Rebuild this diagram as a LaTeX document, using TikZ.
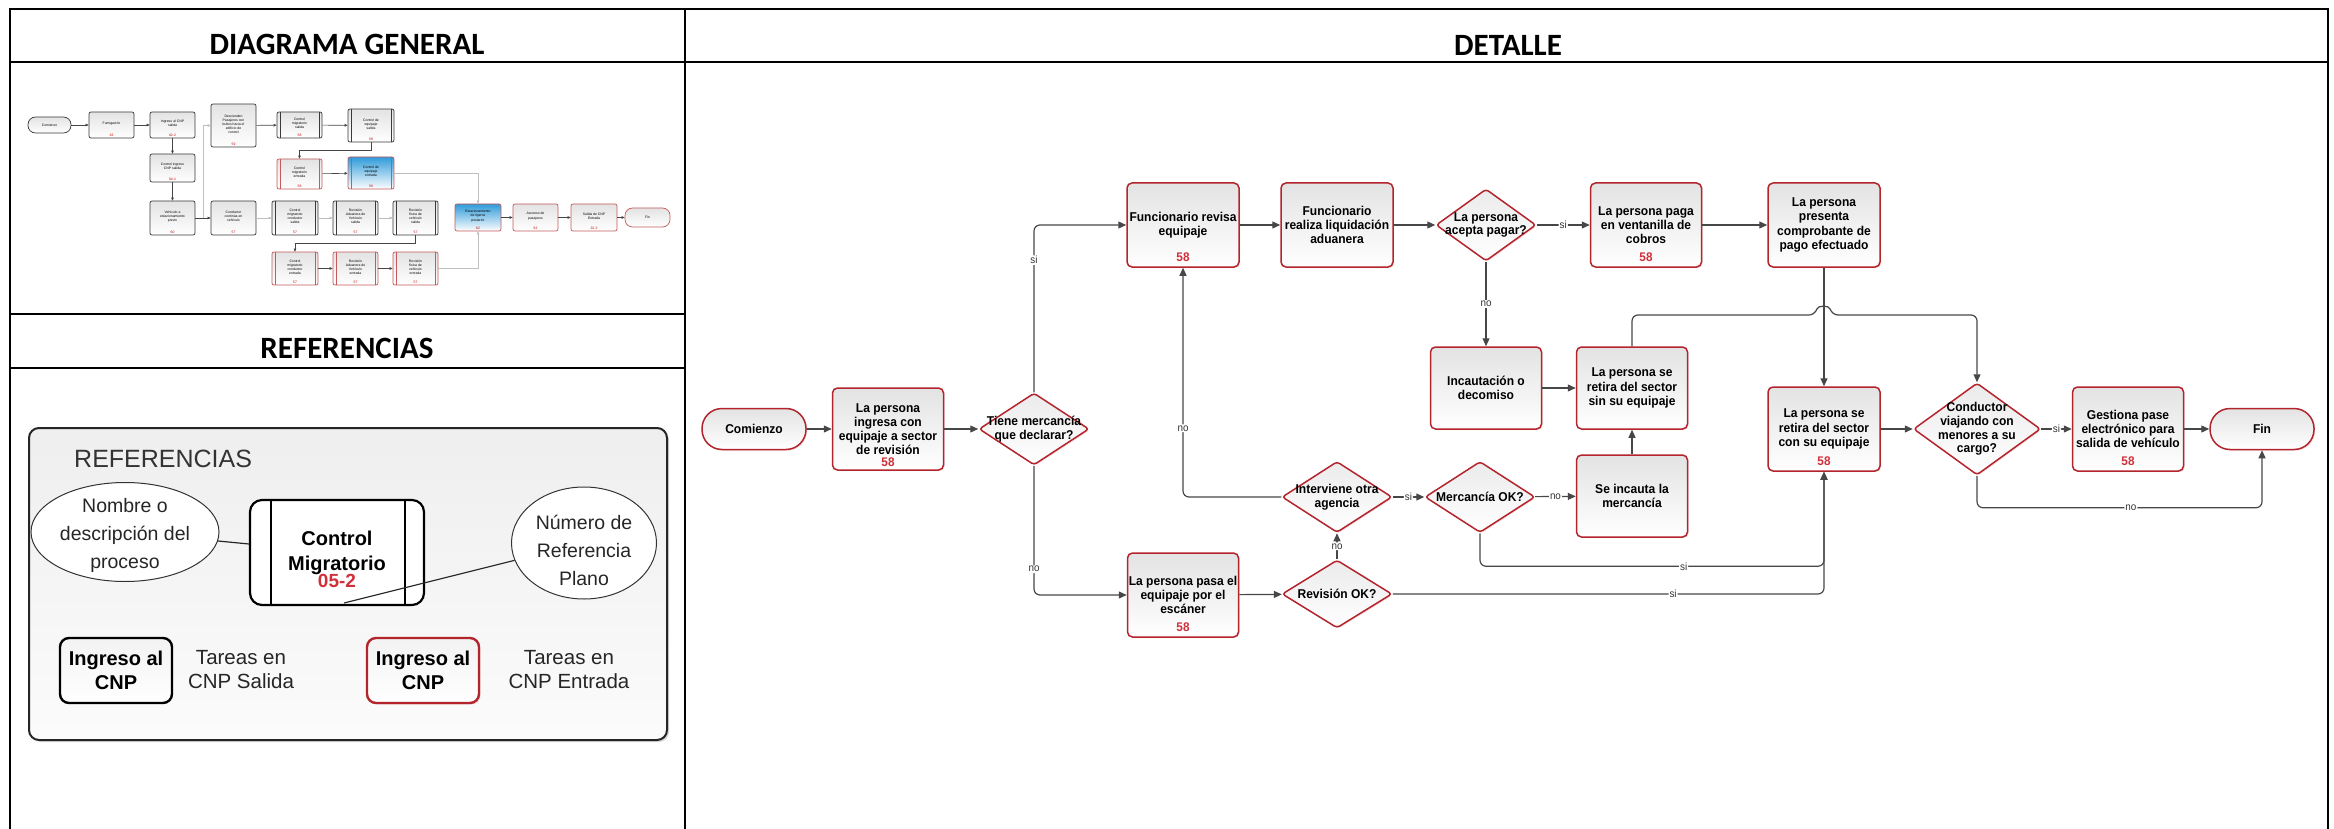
\documentclass[tikz,border=0pt]{standalone}
\usepackage{fontspec}
\setmainfont{Liberation Sans}
\newfontfamily\headfont{Carlito}
\newfontfamily\boxfont[FakeStretch=0.94]{Liberation Sans}
\usetikzlibrary{shapes.geometric,arrows.meta,shadows,calc}

\definecolor{taskred}{HTML}{B3242C}
\definecolor{numred}{HTML}{D0303A}
\definecolor{wire}{HTML}{474747}
\definecolor{minired}{HTML}{C45A5A}
\definecolor{minigray}{HTML}{3A3A3A}
\definecolor{miniblue}{HTML}{2F9BDA}

\tikzset{
  grid/.style={line width=2.6pt, draw=black},
  headtext/.style={font=\headfont\bfseries\fontsize{31}{36}\selectfont, inner sep=0pt},
  task/.style={draw=taskred, line width=1.5pt, rounded corners=5pt,
    top color=gray!22, bottom color=white, minimum width=112pt, minimum height=84pt,
    inner sep=0pt, align=center, font=\boxfont\bfseries\fontsize{12.8}{14.2}\selectfont,
    drop shadow={fill=taskred!70, opacity=0.22, shadow xshift=1.2pt, shadow yshift=-1.2pt}},
  refnum/.style={text=numred, font=\boxfont\bfseries\fontsize{12.5}{14}\selectfont, inner sep=0pt},
  term/.style={task, rounded corners=20pt, minimum width=104pt, minimum height=41pt},
  decision/.style={diamond, draw=taskred, line width=1.5pt, rounded corners=3pt,
    top color=gray!16, bottom color=white, inner sep=0pt,
    drop shadow={fill=taskred!70, opacity=0.22, shadow xshift=1.2pt, shadow yshift=-1.2pt}},
  dtext/.style={align=center, inner sep=0pt, font=\boxfont\bfseries\fontsize{12.8}{13.8}\selectfont},
  conn/.style={draw=wire, line width=1.2pt, rounded corners=6pt},
  arr/.style={conn, -{Triangle[length=8pt,width=7pt]}},
  lbl/.style={fill=white, inner sep=1pt, text=black!80, font=\boxfont\fontsize{10.5}{12}\selectfont},
  % small general diagram
  mgray/.style={draw=minigray, line width=0.7pt, rounded corners=2pt, top color=gray!22, bottom color=white, inner sep=0pt},
  mred/.style={mgray, draw=minired},
  mblue/.style={mgray, draw=minired, top color=miniblue, bottom color=white},
  mterm/.style={mgray, rounded corners=7.5pt},
  mtext/.style={align=center, inner sep=0pt, font=\fontsize{3.4}{4.1}\selectfont},
  mnum/.style={text=red!75!black, inner sep=0pt, font=\fontsize{3.4}{4}\selectfont},
  mbar/.style={line width=0.6pt},
  mconn/.style={draw=gray!55!black, line width=0.6pt, -{Triangle[length=3pt,width=2.6pt]}},
  mlight/.style={mconn, draw=gray!50},
  % legend panel
  reftext/.style={align=center, inner sep=0pt, font=\fontsize{19.5}{28}\selectfont, text=black!85},
  refbold/.style={align=center, inner sep=0pt, font=\bfseries\fontsize{20}{24}\selectfont},
}

% box of the small general diagram: style, name, x, y, width, height, text, number
\newcommand{\mstep}[8]{%
  \node[#1, minimum width=#5pt, minimum height=#6pt] (#2) at (#3,#4) {};
  \node[mtext] (#2-t) at ([yshift=1.4pt]#2.center) {#7};
  \node[mnum] (#2-n) at ([yshift=2.6pt]#2.south) {#8};
}
% side bars of a sub-process box
\newcommand{\msides}[2]{%
  \draw[mbar, draw=#2] ([xshift=3.5pt]#1.north west) -- ([xshift=3.5pt]#1.south west)
                        ([xshift=-3.5pt]#1.north east) -- ([xshift=-3.5pt]#1.south east);
}

\begin{document}
\begin{tikzpicture}[x=1pt,y=-1pt]
\useasboundingbox (0,0) rectangle (2334,829);

% ---------- table frame ----------
\draw[grid] (10,829) -- (10,9) -- (2328,9) -- (2328,829);
\draw[grid] (10,62) -- (2328,62);
\draw[grid] (685,9) -- (685,829);
\draw[grid] (10,314) -- (685,314);
\draw[grid] (10,368) -- (685,368);

\node[headtext] (hgen) at (347,44) {DIAGRAMA GENERAL};
\node[headtext] (hdet) at (1508,45) {DETALLE};
\node[headtext] (href) at (347,348) {REFERENCIAS};

% ---------- general diagram ----------
\node[mterm, minimum width=43pt, minimum height=16pt] (mc) at (49.5,125) {};
\node[mtext] (mc-t) at (mc) {Comienzo};
\mstep{mgray}{mA}{111.5}{125}{45}{26}{Fumigación}{26}
\mstep{mgray}{mB}{172.5}{125}{45}{26}{Ingreso al CNP\\salida}{02-2}
\mstep{mgray}{mC}{233.5}{125.5}{45}{43}{Descienden\\Pasajeros con\\bultos hacia el\\edificio de\\control}{59}
\mstep{mgray}{mD}{299.5}{125}{45}{26}{Control\\migratorio\\salida}{58}
\msides{mD}{minigray}
\mstep{mgray}{mE}{371}{125.5}{46}{33}{Control de\\equipaje\\salida}{58}
\msides{mE}{minigray}
\mstep{mgray}{mF}{172.5}{168}{45}{28}{Control ingreso\\CNP salida}{04-1}
\mstep{mred}{mG}{299.5}{174}{45}{30}{Control\\migratorio\\entrada}{58}
\msides{mG}{minired}
\mstep{mblue}{mH}{371}{173}{46}{32}{Control de\\equipaje\\entrada}{58}
\msides{mH}{minired}
\mstep{mgray}{mI}{172.5}{218}{45}{34}{Vehículo a\\estacionamiento\\previo}{60}
\mstep{mgray}{mJ}{233.5}{218}{45}{34}{Conductor\\continúa en\\vehículo}{57}
\mstep{mgray}{mK}{295}{218}{46}{34}{Control\\migratorio\\conductor\\salida}{57}
\msides{mK}{minigray}
\mstep{mgray}{mL}{355.5}{218}{45}{34}{Revisión\\Aduanera de\\Vehículo\\salida}{57}
\msides{mL}{minigray}
\mstep{mgray}{mM}{415.5}{218}{45}{34}{Revisión\\física de\\vehículo\\salida}{57}
\msides{mM}{minigray}
\mstep{mblue}{mN}{478}{217.5}{46}{27}{Estacionamiento\\de ligeros\\posterior}{62}
\mstep{mred}{mO}{535.5}{217.5}{45}{27}{Ascenso de\\pasajeros}{62}
\mstep{mred}{mP}{594}{217.5}{46}{27}{Salida de CNP\\Entrada}{22-2}
\node[mterm, draw=minired, minimum width=45pt, minimum height=19pt] (mfin) at (647.5,217.5) {};
\node[mtext] (mfin-t) at (mfin) {Fin};
\mstep{mred}{mQ}{295}{268.5}{46}{33}{Control\\migratorio\\conductor\\entrada}{57}
\msides{mQ}{minired}
\mstep{mred}{mR}{355.5}{268.5}{45}{33}{Revisión\\Aduanera de\\Vehículo\\entrada}{57}
\msides{mR}{minired}
\mstep{mred}{mS}{415.5}{268.5}{45}{33}{Revisión\\física de\\vehículo\\entrada}{57}
\msides{mS}{minired}

\draw[mconn] (mc) -- (mA);
\draw[mconn] (mA) -- (mB);
\draw[mconn] (mB) -- (mF);
\draw[mconn] (mF) -- (mI);
\draw[mlight] (mI.east) -- ++(8,0) |- (mC.west);
\draw[mconn] (mI.east) -- (mJ.west);
\draw[mconn] (mC) -- (mD);
\draw[mconn] (mD) -- (mE);
\draw[mconn] (mE.south) -- ++(0,8) -| (mG.north);
\draw[mconn] (mG) -- (mH);
\draw[mlight] (mH.east) -| (mN.north);
\draw[mlight] (mJ) -- (mK);
\draw[mlight] (mK) -- (mL);
\draw[mlight] (mL) -- (mM);
\draw[mconn] (mM.south) -- ++(0,8) -| (mQ.north);
\draw[mconn] (mQ) -- (mR);
\draw[mconn] (mR) -- (mS);
\draw[mlight] (mS.east) -| (mN.south);
\draw[mconn] (mN) -- (mO);
\draw[mconn] (mO) -- (mP);
\draw[mconn] (mP) -- (mfin);

% ---------- legend panel ----------
\node[draw=black!85, line width=2pt, rounded corners=10pt, top color=gray!13, bottom color=gray!3,
      minimum width=638pt, minimum height=312pt,
      drop shadow={opacity=0.3, shadow xshift=2pt, shadow yshift=-2pt}] (panel) at (348,584) {};
\node[anchor=west, inner sep=0pt, font=\fontsize{25}{28}\selectfont, text=black!80] (ptitle) at (74,459) {REFERENCIAS};

\node[ellipse, draw=black!80, line width=1pt, fill=white, minimum width=188pt, minimum height=99pt, inner sep=0pt] (el) at (125,532) {};
\node[reftext] (el-t) at (125,535) {Nombre o\\descripción del\\proceso};
\node[draw=black, line width=2.2pt, rounded corners=12pt, fill=white, minimum width=174pt, minimum height=105pt, inner sep=0pt] (cm) at (337,552.5) {};
\draw[line width=1.6pt] ([xshift=22pt]cm.north west) -- ([xshift=22pt]cm.south west)
                        ([xshift=-20pt]cm.north east) -- ([xshift=-20pt]cm.south east);
\node[refbold, font=\bfseries\fontsize{20}{25}\selectfont] (cm-t) at (337,552.5) {Control\\Migratorio};
\node[inner sep=0pt, text=numred, font=\bfseries\fontsize{19}{20}\selectfont] (cm-n) at (337,581) {05-2};
\node[ellipse, draw=black!80, line width=1pt, fill=white, minimum width=145pt, minimum height=112pt, inner sep=0pt] (er) at (584,543) {};
\node[reftext] (er-t) at (584,550) {Número de\\Referencia\\Plano};
\coordinate (cmfoot) at (344,603);
\draw[line width=1.2pt, black!85] (el) -- (cm);
\draw[line width=1.2pt, black!85] (er) -- (cmfoot);

\node[draw=black, line width=2.4pt, rounded corners=9pt, top color=gray!10, bottom color=white,
      minimum width=112pt, minimum height=65pt] (lgs) at (116,670.5) {};
\node[refbold] (lgs-t) at (116,670) {Ingreso al\\CNP};
\node[reftext, font=\fontsize{20.5}{24}\selectfont] (lgs-d) at (241,670) {Tareas en\\CNP Salida};
\node[draw=taskred, line width=2.4pt, rounded corners=9pt, top color=gray!10, bottom color=white,
      minimum width=112pt, minimum height=65pt,
      drop shadow={fill=taskred!70, opacity=0.25, shadow xshift=1.5pt, shadow yshift=-1.5pt}] (lge) at (423,670.5) {};
\node[refbold] (lge-t) at (423,670) {Ingreso al\\CNP};
\node[reftext, font=\fontsize{20.5}{24}\selectfont] (lge-d) at (569,670) {Tareas en\\CNP Entrada};

% ---------- detailed flow ----------
\node[term] (start) at (754,429) {Comienzo};
\node[task, minimum width=111pt, minimum height=82pt] (t1) at (888,429) {La persona\\ingresa con\\equipaje a sector\\de revisión};
\node[refnum] (t1-n) at ([yshift=9pt]t1.south) {58};
\node[decision, minimum width=110pt, minimum height=72pt] (d1) at (1034,429) {};
\node[dtext] (d1-t) at (d1) {Tiene mercancía\\que declarar?};

\node[task] (t2) at (1183,225) {Funcionario revisa\\equipaje};
\node[refnum] (t2-n) at ([yshift=11pt]t2.south) {58};
\node[task] (t3) at (1337,225) {Funcionario\\realiza liquidación\\aduanera};
\node[decision, minimum width=100pt, minimum height=72pt] (d2) at (1486,225) {};
\node[dtext] (d2-t) at (d2) {La persona\\acepta pagar?};
\node[task, minimum width=111pt] (t4) at (1646,225) {La persona paga\\en ventanilla de\\cobros};
\node[refnum] (t4-n) at ([yshift=11pt]t4.south) {58};
\node[task] (t5) at (1824,225) {La persona\\presenta\\comprobante de\\pago efectuado};

\node[task, minimum width=111pt, minimum height=82pt] (t6) at (1486,388) {Incautación o\\decomiso};
\node[task, minimum width=111pt, minimum height=82pt] (t7) at (1632,388) {La persona se\\retira del sector\\sin su equipaje};
\node[decision, minimum width=110pt, minimum height=71pt] (d4) at (1337,497) {};
\node[dtext] (d4-t) at (d4) {Interviene otra\\agencia};
\node[decision, minimum width=110pt, minimum height=71pt] (d5) at (1480,497) {};
\node[dtext] (d5-t) at (d5) {Mercancía OK?};
\node[task, minimum width=111pt, minimum height=82pt] (t8) at (1632,496) {Se incauta la\\mercancía};

\node[task] (t9) at (1824,429) {La persona se\\retira del sector\\con su equipaje};
\node[refnum] (t9-n) at ([yshift=11pt]t9.south) {58};
\node[decision, minimum width=127pt, minimum height=92pt] (d3) at (1977,429) {};
\node[dtext] (d3-t) at (d3) {Conductor\\viajando con\\menores a su\\cargo?};
\node[task, minimum width=111pt] (t10) at (2128,429) {Gestiona pase\\electrónico para\\salida de vehículo};
\node[refnum] (t10-n) at ([yshift=11pt]t10.south) {58};
\node[term] (fin) at (2262,429) {Fin};

\node[task, minimum width=111pt] (t11) at (1183,595) {La persona pasa el\\equipaje por el\\escáner};
\node[refnum] (t11-n) at ([yshift=11pt]t11.south) {58};
\node[decision, minimum width=110pt, minimum height=68pt] (d6) at (1337,594) {};
\node[dtext] (d6-t) at (d6) {Revisión OK?};

% connectors
\draw[arr] (start) -- (t1);
\draw[arr] (t1) -- (d1);
\draw[arr] (d1.north) |- node[lbl, pos=0.395] {si} (t2.west);
\draw[arr] (d1.south) |- node[lbl, pos=0.4] {no} (t11.west);
\draw[arr] (t2) -- (t3);
\draw[arr] (t3) -- (d2);
\draw[arr] (d2) -- node[lbl] {si} (t4);
\draw[arr] (t4) -- (t5);
\draw[arr] (d2) -- node[lbl] {no} (t6);
\draw[arr] (t6) -- (t7);
\draw[arr] (t8) -- (t7);
\draw[arr] (t7.north) |- (1815,315) .. controls (1818,305) and (1829,305) .. (1832,315) -| (d3.north);
\draw[arr] (t5) -- (t9);
\draw[arr] (t9) -- (d3);
\draw[arr] (d3) -- node[lbl] {si} (t10);
\draw[arr] (t10) -- (fin);
\draw[arr] (d3.south) -- ++(0,32) -| node[lbl, pos=0.27] {no} (fin.south);
\draw[arr] (t11) -- (d6);
\draw[arr] (d6.north) -- node[lbl] {no} (d4.south);
\draw[arr] (d4.west) -| node[lbl, pos=0.65] {no} (t2.south);
\draw[arr] (d4) -- node[lbl] {si} (d5);
\draw[arr] (d5) -- node[lbl] {no} (t8);
\draw[arr] (d5.south) -- ++(0,33) -| node[lbl, pos=0.296] {si} (t9.south);
\draw[arr] (d6.east) -| node[lbl, pos=0.325] {si} (t9.south);

\end{tikzpicture}
\end{document}
